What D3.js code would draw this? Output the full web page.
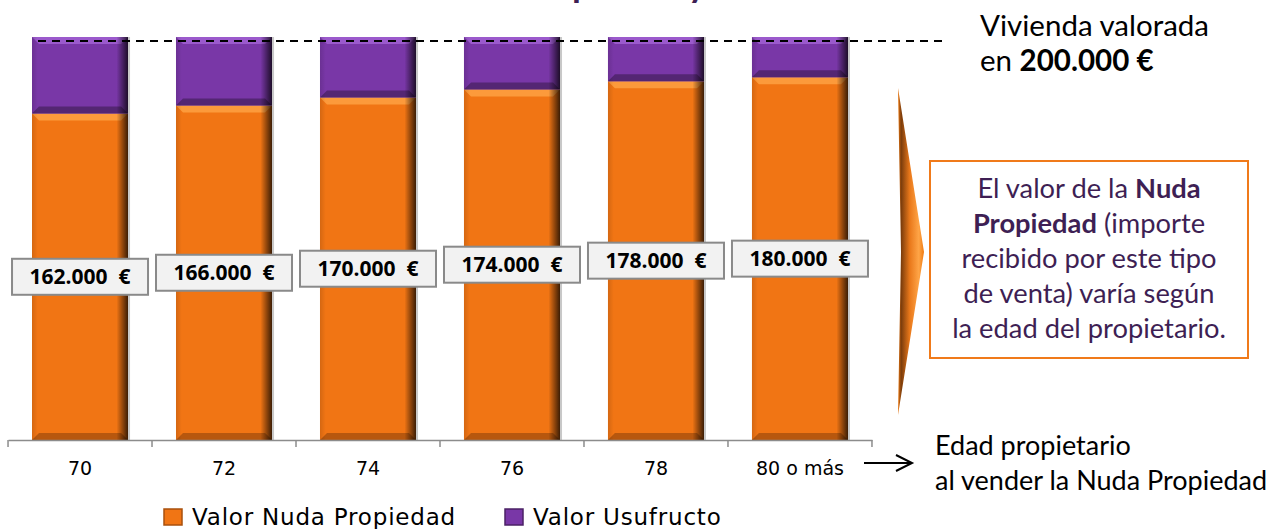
<!DOCTYPE html>
<html>
<head>
<meta charset="utf-8">
<script src="https://cdn.jsdelivr.net/npm/d3@7"></script>
<style>
  html, body { margin: 0; padding: 0; background: #fff; }
  svg { display: block; }
</style>
</head>
<body>
<div id="chart"></div>
<script>
// datos del gráfico
const categories = ["70", "72", "74", "76", "78", "80 o más"];
const nudaValues = [162000, 166000, 170000, 174000, 178000, 180000];
const usufructoValues = [38000, 34000, 30000, 26000, 22000, 20000];
const totalValue = 200000;
const seriesNames = ["Valor Nuda Propiedad", "Valor Usufructo"];

const width = 1275;
const height = 529;
const marginLeft = 8;
const marginRight = 404;
const marginTop = 37;
const axisY = 440;

const esLocale = d3.formatLocale({decimal: ",", thousands: ".", grouping: [3], currency: ["", " €"]});
const fmt = esLocale.format(",");

const x = d3.scaleBand()
    .domain(categories)
    .range([marginLeft, width - marginRight + 1])
    .paddingInner(0.333)
    .paddingOuter(0.1667);

const y = d3.scaleLinear()
    .domain([0, totalValue])
    .range([axisY, marginTop]);

const svg = d3.select("#chart").append("svg")
    .attr("width", width)
    .attr("height", height)
    .attr("viewBox", [0, 0, width, height]);

const defs = svg.append("defs");

// degradados para el efecto biselado
function hGrad(id, stops) {
    const g = defs.append("linearGradient").attr("id", id)
        .attr("x1", "0%").attr("x2", "100%").attr("y1", "0%").attr("y2", "0%");
    stops.forEach(s => g.append("stop").attr("offset", s[0]).attr("stop-color", s[1]).attr("stop-opacity", s[2]));
}
hGrad("sideShade", [["0%", "#000", 0.12], ["6%", "#000", 0], ["88%", "#000", 0], ["100%", "#000", 0.75]]);
hGrad("chevron", [["0%", "#f07a10", 1], ["12%", "#7a3c0c", 1], ["45%", "#e9781a", 1], ["80%", "#ffa547", 1], ["100%", "#f07a10", 1]]);

const styles = [
    {base: "#f17514", top: "#ffa445", bottom: "#a9500c"},
    {base: "#7937a7", top: "#a463d6", bottom: "#4b2266"}
];

// segmentos apilados
const stackData = categories.map((c, i) => ({cat: c, nuda: nudaValues[i], usufructo: usufructoValues[i]}));
const stacked = d3.stack().keys(["nuda", "usufructo"])(stackData);

const bev = 7;
const segs = svg.append("g")
    .selectAll("g")
    .data(stacked)
    .join("g");

segs.each(function(layer, li) {
    const st = styles[li];
    const g = d3.select(this);
    layer.forEach(d => {
        const x0 = x(d.data.cat), x1 = x0 + x.bandwidth();
        const y0 = y(d[1]), y1 = y(d[0]);
        g.append("rect")
            .attr("x", x0).attr("y", y0)
            .attr("width", x.bandwidth()).attr("height", y1 - y0)
            .attr("fill", st.base);
        // bisel superior
        g.append("path")
            .attr("d", `M${x0},${y0}L${x1},${y0}L${x1 - bev},${y0 + bev}L${x0 + bev},${y0 + bev}Z`)
            .attr("fill", st.top).attr("opacity", 0.8);
        // bisel inferior
        g.append("path")
            .attr("d", `M${x0},${y1}L${x1},${y1}L${x1 - bev},${y1 - bev}L${x0 + bev},${y1 - bev}Z`)
            .attr("fill", st.bottom).attr("opacity", 0.8);
        g.append("rect")
            .attr("x", x0).attr("y", y0)
            .attr("width", x.bandwidth()).attr("height", y1 - y0)
            .attr("fill", "url(#sideShade)");
    });
});

// sombra gris a los lados
svg.append("g")
    .selectAll("rect")
    .data(categories)
    .join("rect")
    .attr("x", d => x(d) + x.bandwidth())
    .attr("y", y(totalValue))
    .attr("width", 2)
    .attr("height", axisY - y(totalValue))
    .attr("fill", "#c8c8c8");

// línea discontinua del valor total
svg.append("line")
    .attr("x1", x(categories[0]) + 6)
    .attr("x2", 943)
    .attr("y1", y(totalValue) + 4)
    .attr("y2", y(totalValue) + 4)
    .attr("stroke", "#000")
    .attr("stroke-width", 2.2)
    .attr("stroke-dasharray", "8,6");

// eje x
const axisG = svg.append("g")
    .attr("transform", `translate(0,${axisY})`)
    .call(d3.axisBottom(x).tickSize(0).tickPadding(22));
axisG.select(".domain").attr("stroke", "#8c8c8c").attr("stroke-width", 1.5);
axisG.selectAll(".tick text")
    .attr("font-family", "DejaVu Sans")
    .attr("font-size", 19)
    .attr("fill", "#000");
const bounds = categories.map(c => x(c) - x.step() * x.paddingInner() / 2)
    .concat([x(categories[categories.length - 1]) + x.bandwidth() + x.step() * x.paddingInner() / 2]);
axisG.selectAll(".sep")
    .data(bounds)
    .join("line")
    .attr("class", "sep")
    .attr("x1", d => d).attr("x2", d => d)
    .attr("y1", 0).attr("y2", 7)
    .attr("stroke", "#8c8c8c")
    .attr("stroke-width", 1.5);

// etiquetas con el valor de la nuda propiedad
const labels = svg.append("g")
    .selectAll("g")
    .data(stackData)
    .join("g")
    .attr("transform", d => `translate(${x(d.cat) + x.bandwidth() / 2},${y(d.nuda / 2)})`);
labels.append("rect")
    .attr("x", -68).attr("y", -18)
    .attr("width", 136).attr("height", 36)
    .attr("fill", "#f2f2f2")
    .attr("stroke", "#8a8a8a")
    .attr("stroke-width", 2);
labels.append("text")
    .attr("text-anchor", "middle")
    .attr("dy", "0.35em")
    .attr("font-family", "Open Sans")
    .attr("font-weight", "bold")
    .attr("font-size", 21)
    .attr("fill", "#000")
    .attr("style", "white-space: pre")
    .text(d => fmt(d.nuda) + "  €");

// leyenda
const legendX = [164, 505];
const legend = svg.append("g")
    .selectAll("g")
    .data(seriesNames)
    .join("g")
    .attr("transform", (d, i) => `translate(${legendX[i]},509)`);
legend.append("rect")
    .attr("width", 18).attr("height", 16)
    .attr("fill", (d, i) => styles[i].base)
    .attr("stroke", (d, i) => styles[i].bottom)
    .attr("stroke-width", 1.5);
legend.append("text")
    .attr("x", 28)
    .attr("y", 16)
    .attr("font-family", "DejaVu Sans")
    .attr("font-size", 23)
    .attr("letter-spacing", 0.8)
    .attr("fill", "#000")
    .text(d => d);

// título (cortado arriba, como en el original)
svg.append("text")
    .attr("x", 560)
    .attr("y", -3)
    .attr("text-anchor", "middle")
    .attr("font-family", "Lato")
    .attr("font-weight", "bold")
    .attr("font-size", 36)
    .attr("fill", "#3e1f54")
    .text("Valor de la Nuda Propiedad y Usufructo");

// texto de la vivienda
const viv = svg.append("text")
    .attr("font-family", "Lato")
    .attr("font-size", 29.5)
    .attr("fill", "#000");
viv.append("tspan").attr("x", 980).attr("y", 36).text("Vivienda valorada");
viv.append("tspan").attr("x", 980).attr("y", 71).text("en ");
viv.append("tspan").attr("font-weight", "bold").text(fmt(totalValue) + " €");

// flecha naranja
svg.append("path")
    .attr("d", "M898,88L924,252L898,415L901,252Z")
    .attr("fill", "url(#chevron)");

// cuadro explicativo
svg.append("rect")
    .attr("x", 930).attr("y", 161)
    .attr("width", 318).attr("height", 197)
    .attr("fill", "#fff")
    .attr("stroke", "#f07a1a")
    .attr("stroke-width", 2);
const boxLines = [
    [["El valor de la ", false], ["Nuda", true]],
    [["Propiedad", true], [" (importe", false]],
    [["recibido por este tipo", false]],
    [["de venta) varía según", false]],
    [["la edad del propietario.", false]]
];
const boxText = svg.append("g")
    .attr("font-family", "Lato")
    .attr("font-size", 27.3)
    .attr("fill", "#3e1f54");
boxLines.forEach((parts, i) => {
    const t = boxText.append("text")
        .attr("x", 1089)
        .attr("y", 198 + i * 35)
        .attr("text-anchor", "middle")
        .attr("style", "white-space: pre");
    parts.forEach(p => t.append("tspan").attr("font-weight", p[1] ? "bold" : null).text(p[0]));
});

// flecha del eje y texto de la edad
svg.append("path")
    .attr("d", "M864,463L912,463M896,455L912,463L896,471")
    .attr("fill", "none")
    .attr("stroke", "#000")
    .attr("stroke-width", 2);
const edad = svg.append("text")
    .attr("font-family", "Lato")
    .attr("font-size", 27)
    .attr("fill", "#000");
edad.append("tspan").attr("x", 935).attr("y", 455).text("Edad propietario");
edad.append("tspan").attr("x", 935).attr("y", 490).text("al vender la Nuda Propiedad");
</script>
</body>
</html>
